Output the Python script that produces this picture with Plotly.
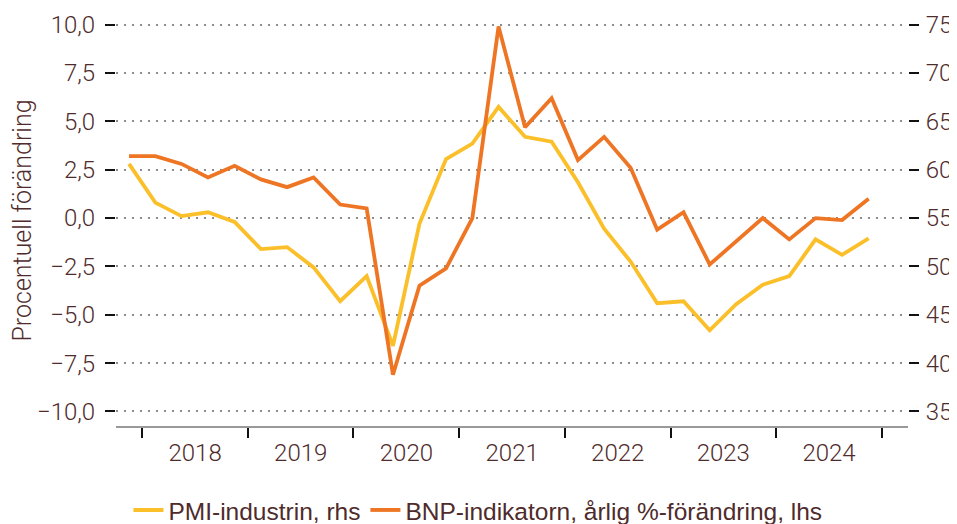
import pandas as pd
import plotly.graph_objects as go

# kvartal, Q4 2017 - Q4 2024
kvartal = ["2017Q4",
           "2018Q1", "2018Q2", "2018Q3", "2018Q4",
           "2019Q1", "2019Q2", "2019Q3", "2019Q4",
           "2020Q1", "2020Q2", "2020Q3", "2020Q4",
           "2021Q1", "2021Q2", "2021Q3", "2021Q4",
           "2022Q1", "2022Q2", "2022Q3", "2022Q4",
           "2023Q1", "2023Q2", "2023Q3", "2023Q4",
           "2024Q1", "2024Q2", "2024Q3", "2024Q4"]

# PMI-industrin (höger axel)
pmi = [60.6, 56.6, 55.2, 55.6, 54.6, 51.8, 52.0, 49.9, 46.4, 49.0,
       41.8, 54.4, 61.1, 62.7, 66.5, 63.4, 62.9, 58.7, 53.9, 50.5,
       46.2, 46.4, 43.4, 46.1, 48.1, 49.0, 52.8, 51.2, 52.9]

# BNP-indikatorn, årlig %-förändring (vänster axel)
bnp = [3.2, 3.2, 2.8, 2.1, 2.7, 2.0, 1.6, 2.1, 0.7, 0.5,
       -8.1, -3.5, -2.6, 0.0, 9.9, 4.7, 6.2, 3.0, 4.2, 2.6,
       -0.6, 0.3, -2.4, -1.2, 0.0, -1.1, 0.0, -0.1, 1.0]

# mitten av varje kvartal
perioder = [pd.Period(q, freq="Q") for q in kvartal]
x = [p.start_time + (p.end_time - p.start_time) / 2 for p in perioder]

text_farg = "#4f2b2b"
tick_font = dict(family="Roboto", size=24, color=text_farg, weight=300)

fig = go.Figure()

fig.add_trace(go.Scatter(
    x=x, y=pmi, name="PMI-industrin, rhs", mode="lines",
    line=dict(color="#fbbf2a", width=3.8), yaxis="y"
))

fig.add_trace(go.Scatter(
    x=x, y=bnp, name="BNP-indikatorn, årlig %-förändring, lhs", mode="lines",
    line=dict(color="#ee7523", width=3.8), yaxis="y2"
))

# sidan har 8 px marginal i body, därför lite mindre figur
fig.update_layout(
    width=949, height=516,
    margin=dict(l=108, r=49, t=7, b=98, autoexpand=False),
    paper_bgcolor="white", plot_bgcolor="white",
    separators=", ",
    showlegend=True,
    legend=dict(orientation="h", x=0.457, xanchor="center",
                yref="container", y=0.027, yanchor="middle",
                font=dict(family="Liberation Sans", size=24.5, color=text_farg),
                itemwidth=30, tracegroupgap=0),
    xaxis=dict(
        type="date", range=["2017-10-02", "2025-04-01"], automargin=False,
        tick0="2018-01-01", dtick="M12", tickformat="%Y", ticklabelmode="period",
        showgrid=False, showline=True, linecolor="#999999", linewidth=2,
        ticks="outside", ticklen=10, tickwidth=2, tickcolor="#111111",
        tickfont=tick_font, ticklabelstandoff=-6
    ),
    yaxis=dict(
        side="right", range=[33.5, 76], tick0=35, dtick=5, automargin=False,
        showgrid=True, gridcolor="#8c8c8c", gridwidth=1.6, griddash="2px,6px",
        zeroline=False, showline=False,
        ticks="outside", ticklen=10, tickwidth=2, tickcolor="#111111",
        tickfont=tick_font, ticklabelstandoff=2
    ),
    yaxis2=dict(
        side="left", overlaying="y", range=[-10.75, 10.5], tick0=-10, dtick=2.5,
        automargin=False,
        tickformat=".1f", showgrid=False, zeroline=False, showline=False,
        ticks="outside", ticklen=10, tickwidth=2, tickcolor="#111111",
        tickfont=tick_font, ticklabelstandoff=5,
        title=dict(text="Procentuell förändring", standoff=9,
                   font=dict(family="Roboto", size=25, color=text_farg, weight=300))
    ),
)

fig.write_html("out.html")
